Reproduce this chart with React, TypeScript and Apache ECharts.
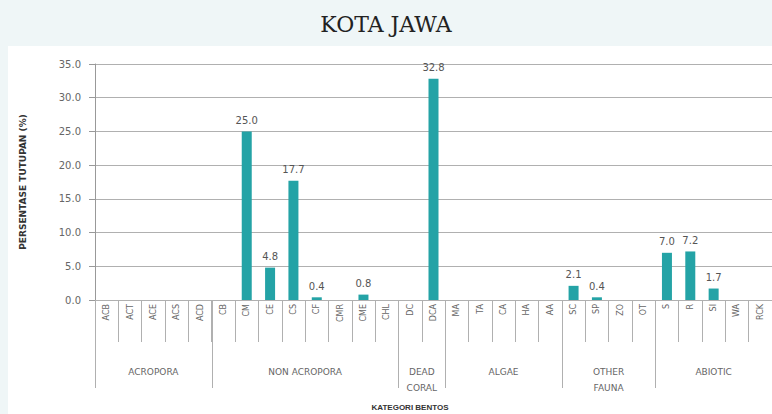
import React, { useEffect, useRef } from "react";
import * as echarts from "echarts";

const categories = [
  "ACB", "ACT", "ACE", "ACS", "ACD",
  "CB", "CM", "CE", "CS", "CF", "CMR", "CME", "CHL",
  "DC", "DCA",
  "MA", "TA", "CA", "HA", "AA",
  "SC", "SP", "ZO", "OT",
  "S", "R", "SI", "WA", "RCK",
];
const values = [
  0, 0, 0, 0, 0,
  0, 25.0, 4.8, 17.7, 0.4, 0, 0.8, 0,
  0, 32.8,
  0, 0, 0, 0, 0,
  2.1, 0.4, 0, 0,
  7.0, 7.2, 1.7, 0, 0,
];
const groupNames = ["ACROPORA", "NON ACROPORA", "DEAD\nCORAL", "ALGAE", "OTHER\nFAUNA", "ABIOTIC"];
const groupSizes = [5, 8, 2, 5, 4, 5];
const yTicks = { min: 0, max: 35, interval: 5 };

const FONT = "DejaVu Sans";
const LABEL = "#555";
const LINE = "#b0b0b0";

export default function App() {
  const ref = useRef<HTMLDivElement>(null);
  useEffect(() => {
    document.body.style.margin = "0";
    const chart = echarts.init(ref.current!, undefined, { renderer: "svg" });
    const option: any = {
      animation: false,
      backgroundColor: "#eff6f7",
      title: {
        text: "KOTA JAWA",
        left: "center",
        top: 8,
        textStyle: { fontFamily: "DejaVu Serif", fontSize: 22, fontWeight: "normal", color: "#222" },
      },
      grid: { left: 95, top: 64, bottom: 114, right: -7, containLabel: false },
      xAxis: {
        type: "category",
        data: categories,
        axisLine: { show: true, lineStyle: { color: LINE } },
        axisTick: { show: true, interval: 0, length: 42, lineStyle: { color: LINE } },
        axisLabel: {
          interval: 0,
          rotate: 90,
          margin: 4,
          fontSize: 8,
          fontFamily: FONT,
          color: "#666",
        },
      },
      yAxis: {
        type: "value",
        min: yTicks.min,
        max: yTicks.max,
        interval: yTicks.interval,
        name: "PERSENTASE TUTUPAN (%)",
        nameLocation: "middle",
        nameRotate: 90,
        nameGap: 68,
        nameTextStyle: { fontFamily: "DejaVu Sans", fontWeight: "bold", fontSize: 9, color: "#333" },
        axisLine: { show: true, lineStyle: { color: "#999" } },
        axisTick: { show: true, length: 6, lineStyle: { color: "#999" } },
        splitLine: { show: true, lineStyle: { color: LINE } },
        axisLabel: {
          margin: 14,
          fontSize: 10,
          fontFamily: FONT,
          color: "#666",
          formatter: (v: number) => v.toFixed(1),
        },
      },
      series: [
        {
          type: "bar",
          data: values,
          barWidth: 10,
          itemStyle: { color: "#24a3a6" },
          label: {
            show: true,
            position: "top",
            distance: 6,
            fontSize: 10,
            fontFamily: FONT,
            color: LABEL,
            formatter: (p: any) => (p.value > 0 ? Number(p.value).toFixed(1) : ""),
          },
        },
      ],
    };
    chart.setOption(option);

    const c0 = chart.convertToPixel({ xAxisIndex: 0 }, categories[0]) as number;
    const c1 = chart.convertToPixel({ xAxisIndex: 0 }, categories[1]) as number;
    const bw = c1 - c0;
    const start = c0 - bw / 2;
    const yBase = chart.convertToPixel({ yAxisIndex: 0 }, 0) as number;

    const elements: any[] = [
      {
        type: "rect",
        z: -10,
        silent: true,
        shape: { x: 8, y: 46, width: 900, height: 500 },
        style: { fill: "#ffffff" },
      },
    ];
    let idx = 0;
    const bounds: number[] = [0];
    groupSizes.forEach((s) => {
      idx += s;
      bounds.push(idx);
    });
    bounds.forEach((b) => {
      const x = Math.round(start + b * bw) + 0.5;
      elements.push({
        type: "line",
        shape: { x1: x, y1: yBase, x2: x, y2: yBase + 88 },
        style: { stroke: LINE, lineWidth: 1 },
      });
    });
    groupNames.forEach((g, i) => {
      const cx = start + ((bounds[i] + bounds[i + 1]) / 2) * bw;
      elements.push({
        type: "text",
        x: cx,
        y: yBase + 64,
        style: {
          text: g,
          align: "center",
          verticalAlign: "top",
          fontSize: 9,
          lineHeight: 16,
          fontFamily: FONT,
          fill: "#666",
        },
      });
    });
    elements.push({
      type: "text",
      x: 410,
      y: 407,
      style: {
        text: "KATEGORI BENTOS",
        align: "center",
        verticalAlign: "middle",
        fontSize: 8,
        fontWeight: "bold",
        fontFamily: "Liberation Sans",
        fill: "#333",
      },
    });
    chart.setOption({ graphic: elements });

    return () => chart.dispose();
  }, []);
  return (
    <div style={{ position: "absolute", left: 0, top: 0, width: 772, height: 414, overflow: "hidden" }}>
      <div ref={ref} style={{ width: 772, height: 414 }} />
    </div>
  );
}
